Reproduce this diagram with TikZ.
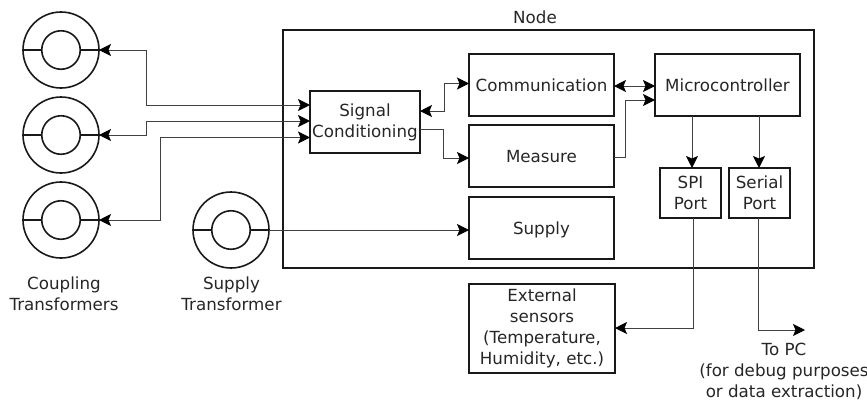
\documentclass[tikz,border=0pt]{standalone}
\usepackage{fontspec}
\setmainfont{DejaVu Sans}
\usetikzlibrary{arrows.meta,calc}
\tikzset{
  px/.style={x=1pt,y=-1pt},
  boxn/.style={draw=black!90,line width=1.6pt,rectangle,inner sep=0pt,outer sep=0pt,align=center,font=\fontsize{16.7}{21}\selectfont,text=black!85,minimum width=#1},
  boxn/.default=145pt,
  oneline/.style={text height=13pt,text depth=1pt},
  lab/.style={align=center,inner sep=0pt,font=\fontsize{16.7}{21}\selectfont,text=black!85},
  ring/.style={draw=black!90,circle,line width=1.6pt,inner sep=0pt,outer sep=0pt,minimum size=76pt},
  core/.style={draw=black!90,circle,line width=1.6pt,inner sep=0pt,outer sep=0pt,minimum size=38.5pt},
  stub/.style={draw=black!90,line width=1.6pt},
  wire/.style={draw=black!75,line width=1pt},
  tip/.style={-{Stealth[length=12pt,width=12pt,inset=2.5pt,color=black]}},
  tips/.style={{Stealth[length=12pt,width=12pt,inset=2.5pt,color=black]}-{Stealth[length=12pt,width=12pt,inset=2.5pt,color=black]}}
}
\begin{document}
\begin{tikzpicture}[px]
\useasboundingbox (0,0) rectangle (867,400);
\node[boxn=531pt,minimum height=238pt] (outer) at (548.5,149) {};
\node[lab] (nodelab) at (535,17) {Node};
\node[boxn=110pt,minimum height=62pt] (sig) at (365,122) {Signal\\Conditioning};
\node[boxn,oneline,minimum height=62pt] (comm) at (541.5,85) {Communication};
\node[boxn,oneline,minimum height=62pt] (meas) at (541.5,156) {Measure};
\node[boxn,oneline,minimum height=62pt] (sup) at (541.5,228) {Supply};
\node[boxn,oneline,minimum height=62pt] (mcu) at (727.5,85) {Microcontroller};
\node[boxn=61pt,minimum height=50pt] (spi) at (690.5,193) {SPI\\Port};
\node[boxn=61pt,minimum height=50pt] (ser) at (759.5,193) {Serial\\Port};
\node[boxn=146pt,minimum height=89pt] (ext) at (542,328.5) {\vspace*{2pt}External\\sensors\\(Temperature,\\Humidity, etc.)};
\foreach \n/\cx/\cy in {ta/61/50,tb/61/135,tc/61/220,td/231/230}{
  \node[ring] (\n) at (\cx,\cy) {};
  \node[core] (\n i) at (\cx,\cy) {};
  \draw[stub] (\n.west) -- (\n i.west);
  \draw[stub] (\n i.east) -- (\n.east);
}
\node[lab] (cplab) at (64,293.5) {Coupling\\Transformers};
\node[lab] (splab) at (231.5,293.5) {Supply\\Transformer};
\node[lab] (pclab) at (784,371.5) {To PC\\(for debug purposes\\or data extraction)};
\coordinate (pc) at (805,330);
% coupling transformers to signal conditioning
\draw[wire,tips] (ta.east) -- (146,50) |- ($(sig.west)+(0,-17)$);
\draw[wire,tips] (tb.east) -- (146,135) |- ($(sig.west)+(0,-1)$);
\draw[wire,tips] (tc.east) -- (160,220) |- ($(sig.west)+(0,15.5)$);
\draw[wire,tip] (td.east) -- (sup.west |- td.east);
% centre
\draw[wire,tips] ($(sig.east)+(0,-11)$) -| (444,83.5) -- (comm.west |- 0,83.5);
\draw[wire,tip] ($(sig.east)+(0,7)$) -| (443,158) -- (meas.west |- 0,158);
\draw[wire,tips] (comm.east |- 0,86) -- (mcu.west |- 0,86);
\draw[wire,tip] (meas.east |- 0,157) -| (625,100) -- (mcu.west |- 0,100);
% right
\draw[wire,tip] (692,116) -- (692,168);
\draw[wire,tip] (759,116) -- (759,168);
\draw[wire,tip] (693,218) |- (ext.east |- 0,328);
\draw[wire,tip] (758,218) |- (pc);
\end{tikzpicture}
\end{document}
